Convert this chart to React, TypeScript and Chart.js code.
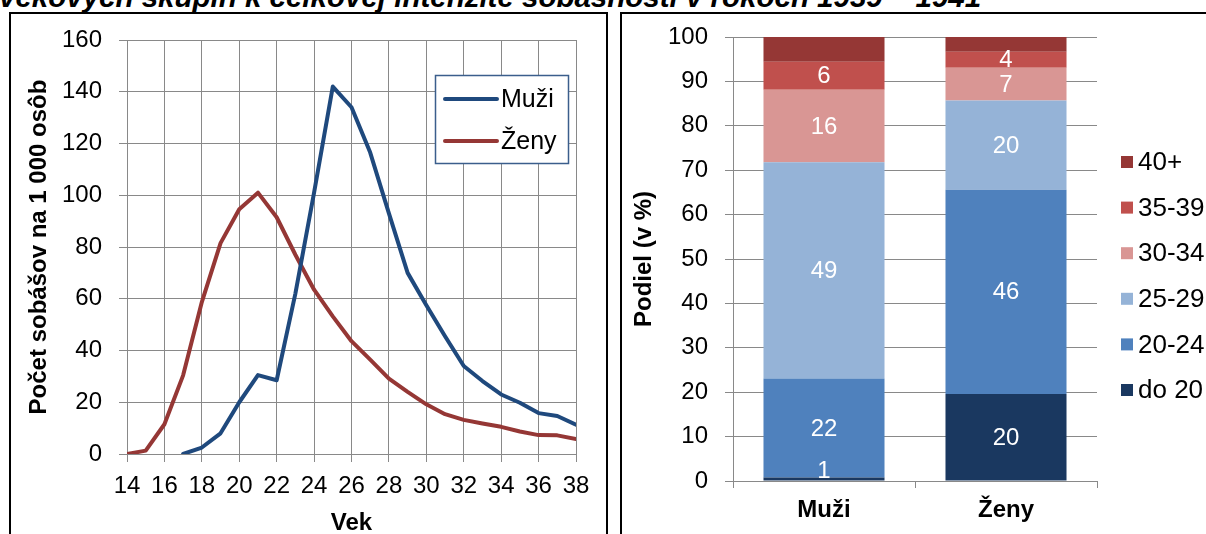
import React, { useEffect, useRef } from "react";
import { Chart, registerables } from "chart.js";

Chart.register(...registerables);

const FONT = "'Liberation Sans', Arial, sans-serif";
const GRID = "#898989";

const TITLE = "vekových skupín k celkovej intenzite sobášnosti v rokoch 1939 – 1941";

// Left chart: marriage rate by age
const AGES = [14, 15, 16, 17, 18, 19, 20, 21, 22, 23, 24, 25, 26, 27, 28, 29, 30, 31, 32, 33, 34, 35, 36, 37, 38];
const MUZI = [null, null, null, 0, 2.5, 8, 20, 30.5, 28.5, 62, 101, 142, 134, 116.5, 93, 70, 57.5, 45.5, 34, 28.2, 23, 19.8, 15.8, 14.7, 11.3];
const ZENY = [0, 1.3, 11.5, 30.4, 58.7, 81.5, 94.6, 101, 91.5, 77, 63.5, 53.2, 43.6, 36.5, 29.1, 24, 19.2, 15.4, 13.2, 11.8, 10.5, 8.7, 7.3, 7.2, 5.8];
const LINE_NAMES = ["Muži", "Ženy"];
const LINE_COLORS = ["#1F497D", "#953735"];
const LEFT_X_TITLE = "Vek";
const LEFT_Y_TITLE = "Počet sobášov na 1 000 osôb";

// Right chart: shares of age groups
const BAR_CATEGORIES = ["Muži", "Ženy"];
const AGE_GROUPS = ["do 20", "20-24", "25-29", "30-34", "35-39", "40+"];
const SHARE_MUZI = [0.8, 22.3, 48.7, 16.3, 6.3, 5.6];
const SHARE_ZENY = [19.6, 46.0, 20.1, 7.4, 3.6, 3.3];
const SHOW_LABEL = [true, true, true, true, true, false];
const BAR_COLORS = ["#1A3860", "#4F81BD", "#95B3D7", "#D99694", "#C0504D", "#953735"];
const RIGHT_Y_TITLE = "Podiel (v %)";

const lineLegendPlugin = {
  id: "lineLegend",
  afterDraw(chart: any) {
    const ctx = chart.ctx;
    ctx.save();
    ctx.fillStyle = "#fff";
    ctx.fillRect(435, 75, 134, 89);
    ctx.strokeStyle = "#3B5E8C";
    ctx.lineWidth = 1.5;
    ctx.strokeRect(435.5, 75.5, 133, 88);
    chart.data.datasets.forEach((ds: any, i: number) => {
      const y = 99 + i * 42;
      ctx.strokeStyle = ds.borderColor;
      ctx.lineWidth = 4;
      ctx.lineCap = "round";
      ctx.beginPath();
      ctx.moveTo(445, y);
      ctx.lineTo(497, y);
      ctx.stroke();
      ctx.fillStyle = "#000";
      ctx.font = `25px ${FONT}`;
      ctx.textBaseline = "middle";
      ctx.textAlign = "left";
      ctx.fillText(ds.label, 501, y + 1);
    });
    ctx.restore();
  },
};

const barPlugin = {
  id: "barLabelsLegend",
  afterDatasetsDraw(chart: any) {
    const ctx = chart.ctx;
    ctx.save();
    ctx.fillStyle = "#fff";
    ctx.font = `24px ${FONT}`;
    ctx.textAlign = "center";
    ctx.textBaseline = "middle";
    chart.data.datasets.forEach((ds: any, i: number) => {
      if (!SHOW_LABEL[i]) return;
      const meta = chart.getDatasetMeta(i);
      meta.data.forEach((el: any, j: number) => {
        const { x, y, base } = el.getProps(["x", "y", "base"], true);
        let cy = (y + base) / 2;
        cy = Math.min(cy, chart.chartArea.bottom - 11);
        ctx.fillText(String(Math.round(ds.data[j])), x, cy + 1);
      });
    });
    ctx.restore();
  },
  afterDraw(chart: any) {
    const ctx = chart.ctx;
    ctx.save();
    ctx.font = `26px ${FONT}`;
    ctx.textAlign = "left";
    ctx.textBaseline = "middle";
    const n = chart.data.datasets.length;
    for (let k = 0; k < n; k++) {
      const ds = chart.data.datasets[n - 1 - k];
      const cy = 162 + k * 45.6;
      ctx.fillStyle = ds.backgroundColor;
      ctx.fillRect(501, cy - 6, 12, 12);
      ctx.fillStyle = "#000";
      ctx.fillText(ds.label, 518, cy + 1);
    }
    ctx.restore();
  },
};

function LeftChart() {
  const ref = useRef<HTMLCanvasElement>(null);
  useEffect(() => {
    const datasets = [MUZI, ZENY].map((vals, k) => ({
      label: LINE_NAMES[k],
      data: AGES.map((a, i) => ({ x: a, y: vals[i] })).filter((p) => p.y !== null),
      borderColor: LINE_COLORS[k],
      backgroundColor: LINE_COLORS[k],
      borderWidth: 4,
      pointRadius: 0,
      tension: 0,
      fill: false,
      borderCapStyle: "round",
      borderJoinStyle: "round",
    }));
    const chart = new Chart(ref.current!, {
      type: "line",
      data: { datasets } as any,
      options: {
        animation: false,
        responsive: false,
        maintainAspectRatio: false,
        layout: { padding: { left: 0, top: 40, right: 44, bottom: 0 } },
        plugins: { legend: { display: false }, tooltip: { enabled: false } },
        scales: {
          x: {
            type: "linear",
            min: 14,
            max: 38,
            ticks: { stepSize: 2, padding: 10, color: "#000", font: { family: FONT, size: 24 }, maxRotation: 0, autoSkip: false },
            grid: { color: GRID, lineWidth: 1, tickLength: 8 },
            border: { color: GRID },
            title: { display: true, text: LEFT_X_TITLE, color: "#000", font: { family: FONT, size: 24, weight: "bold", lineHeight: 1 }, padding: { top: 0, bottom: -1 } },
            afterFit: (s: any) => { s.height = 80; },
          },
          y: {
            min: 0,
            max: 160,
            ticks: { stepSize: 20, padding: 17, color: "#000", font: { family: FONT, size: 24 } },
            grid: { color: GRID, lineWidth: 1, tickLength: 8 },
            border: { color: GRID },
            title: { display: true, text: LEFT_Y_TITLE, color: "#000", font: { family: FONT, size: 24, weight: "bold", lineHeight: 1 }, padding: { top: 27, bottom: 0 } },
            afterFit: (s: any) => { s.width = 127; },
          },
        },
      } as any,
      plugins: [lineLegendPlugin],
    });
    return () => chart.destroy();
  }, []);
  return <canvas ref={ref} width={620} height={534} style={{ position: "absolute", left: 0, top: 0, width: 620, height: 534 }} />;
}

function RightChart() {
  const ref = useRef<HTMLCanvasElement>(null);
  useEffect(() => {
    const datasets = AGE_GROUPS.map((g, i) => ({
      label: g,
      data: [SHARE_MUZI[i], SHARE_ZENY[i]],
      backgroundColor: BAR_COLORS[i],
      borderWidth: 0,
      barPercentage: 0.665,
      categoryPercentage: 1,
    }));
    const chart = new Chart(ref.current!, {
      type: "bar",
      data: { labels: BAR_CATEGORIES, datasets },
      options: {
        animation: false,
        responsive: false,
        maintainAspectRatio: false,
        layout: { padding: { left: 0, top: 37, right: 109, bottom: 0 } },
        plugins: { legend: { display: false }, tooltip: { enabled: false } },
        scales: {
          x: {
            stacked: true,
            ticks: { padding: 8, color: "#000", font: { family: FONT, size: 24, weight: "bold" } },
            grid: { drawOnChartArea: false, color: GRID, tickLength: 7, offset: true },
            border: { color: GRID },
            afterFit: (s: any) => { s.height = 53; },
          },
          y: {
            stacked: true,
            min: 0,
            max: 100,
            ticks: { stepSize: 10, padding: 17, color: "#000", font: { family: FONT, size: 24 } },
            grid: { color: GRID, lineWidth: 1, tickLength: 8 },
            border: { color: GRID },
            title: { display: true, text: RIGHT_Y_TITLE, color: "#000", font: { family: FONT, size: 24, weight: "bold", lineHeight: 1 }, padding: { top: 12.5, bottom: 0 } },
            afterFit: (s: any) => { s.width = 113; },
          },
        },
      } as any,
      plugins: [barPlugin],
    });
    return () => chart.destroy();
  }, []);
  return <canvas ref={ref} width={586} height={534} style={{ position: "absolute", left: 620, top: 0, width: 586, height: 534 }} />;
}

export default function App() {
  return (
    <div style={{ position: "absolute", left: 0, top: 0, width: 1206, height: 534, overflow: "hidden", background: "#fff" }}>
      <div
        style={{
          position: "absolute",
          left: -1,
          top: -18,
          font: `italic bold 29.5px ${FONT}`,
          lineHeight: "29.5px",
          whiteSpace: "nowrap",
          color: "#000",
        }}
      >
        {TITLE}
      </div>
      <div style={{ position: "absolute", left: 9, top: 12, width: 599, height: 600, border: "2px solid #000", boxSizing: "border-box" }} />
      <div style={{ position: "absolute", left: 620, top: 12, width: 700, height: 600, border: "2px solid #000", boxSizing: "border-box" }} />
      <LeftChart />
      <RightChart />
    </div>
  );
}
